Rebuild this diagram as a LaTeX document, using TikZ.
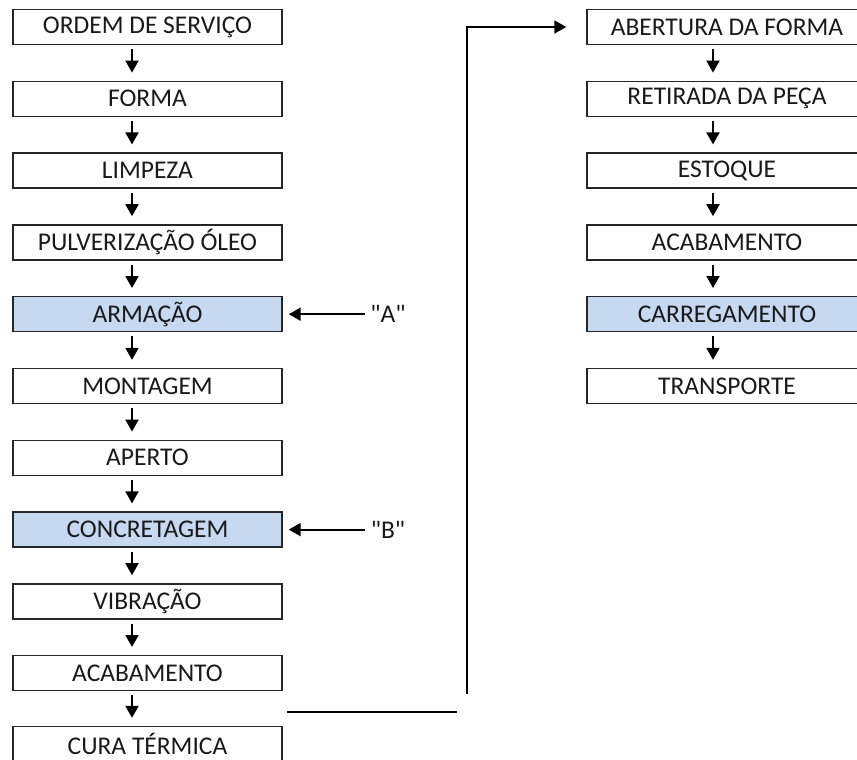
\documentclass[tikz,border=0pt]{standalone}
\usepackage{fontspec}
\setmainfont{Carlito}[Ligatures=TeXOff]
\usetikzlibrary{arrows.meta}

\definecolor{stepblue}{HTML}{C6D9F1}

\tikzset{
  etapa/.style={draw=black!85, line width=1.4pt, minimum height=35pt, inner sep=0pt,
                font=\fontsize{25.5}{30}\selectfont, text=black!90},
  esq/.style={etapa, minimum width=269pt},
  dir/.style={etapa, minimum width=280pt},
  marca/.style={etapa, fill=stepblue},
  fluxo/.style={line width=2pt, -{Triangle[length=12pt,width=13pt]}, shorten <=4pt, shorten >=8pt},
  linha/.style={line width=1.4pt}
}

\begin{document}
\begin{tikzpicture}[x=1pt, y=-1pt]
\useasboundingbox (0,0) rectangle (857,760);
\clip (0,0) rectangle (857,760);

% eixos das setas
\coordinate (lx) at (132,0);
\coordinate (rx) at (713,0);

% coluna esquerda
\node[esq] (ordem)   at (147.5,27)    {ORDEM DE SERVIÇO};
\node[esq] (forma)   at (147.5,98.8)  {FORMA};
\node[esq] (limpeza) at (147.5,170.6) {LIMPEZA};
\node[esq] (oleo)    at (147.5,242.4) {PULVERIZAÇÃO ÓLEO};
\node[esq,marca] (armacao) at (147.5,314.2) {ARMAÇÃO};
\node[esq] (montagem) at (147.5,386)  {MONTAGEM};
\node[esq] (aperto)   at (147.5,457.8) {APERTO};
\node[esq,marca] (concretagem) at (147.5,529.6) {CONCRETAGEM};
\node[esq] (vibracao) at (147.5,601.4) {VIBRAÇÃO};
\node[esq] (acab1)    at (147.5,673.2) {ACABAMENTO};
\node[esq] (cura)     at (147.5,744)   {CURA TÉRMICA};

% coluna direita
\node[dir] (abertura) at (727,27)    {ABERTURA DA FORMA};
\node[dir] (retirada) at (727,98.8)  {RETIRADA DA PEÇA};
\node[dir] (estoque)  at (727,170.6) {ESTOQUE};
\node[dir] (acab2)    at (727,242.4) {ACABAMENTO};
\node[dir,marca] (carreg) at (727,314.2) {CARREGAMENTO};
\node[dir] (transp)   at (727,386)   {TRANSPORTE};

% setas verticais
\draw[fluxo] (ordem.south -| lx) -- (forma.north -| lx);
\draw[fluxo] (forma.south -| lx) -- (limpeza.north -| lx);
\draw[fluxo] (limpeza.south -| lx) -- (oleo.north -| lx);
\draw[fluxo] (oleo.south -| lx) -- (armacao.north -| lx);
\draw[fluxo] (armacao.south -| lx) -- (montagem.north -| lx);
\draw[fluxo] (montagem.south -| lx) -- (aperto.north -| lx);
\draw[fluxo] (aperto.south -| lx) -- (concretagem.north -| lx);
\draw[fluxo] (concretagem.south -| lx) -- (vibracao.north -| lx);
\draw[fluxo] (vibracao.south -| lx) -- (acab1.north -| lx);
\draw[fluxo] (acab1.south -| lx) -- (cura.north -| lx);

\draw[fluxo] (abertura.south -| rx) -- (retirada.north -| rx);
\draw[fluxo] (retirada.south -| rx) -- (estoque.north -| rx);
\draw[fluxo] (estoque.south -| rx) -- (acab2.north -| rx);
\draw[fluxo] (acab2.south -| rx) -- (carreg.north -| rx);
\draw[fluxo] (carreg.south -| rx) -- (transp.north -| rx);

% pontos "A" e "B"
\node[font=\fontsize{25.5}{30}\selectfont, text=black!90] (ptA) at (388,314.2) {"A"};
\node[font=\fontsize{25.5}{30}\selectfont, text=black!90] (ptB) at (388,529.6) {"B"};
\draw[fluxo, shorten <=2pt, shorten >=6pt] (ptA.west) -- (armacao.east);
\draw[fluxo, shorten <=2pt, shorten >=6pt] (ptB.west) -- (concretagem.east);

% ligacao entre colunas
\coordinate (h1) at (287,712);
\coordinate (h2) at (457,712);
\coordinate (v1) at (467,694);
\draw[linha] (h1) -- (h2);
\draw[fluxo, line width=1.6pt, shorten <=0pt, shorten >=20pt] (v1) |- (abertura.west);

\end{tikzpicture}
\end{document}
